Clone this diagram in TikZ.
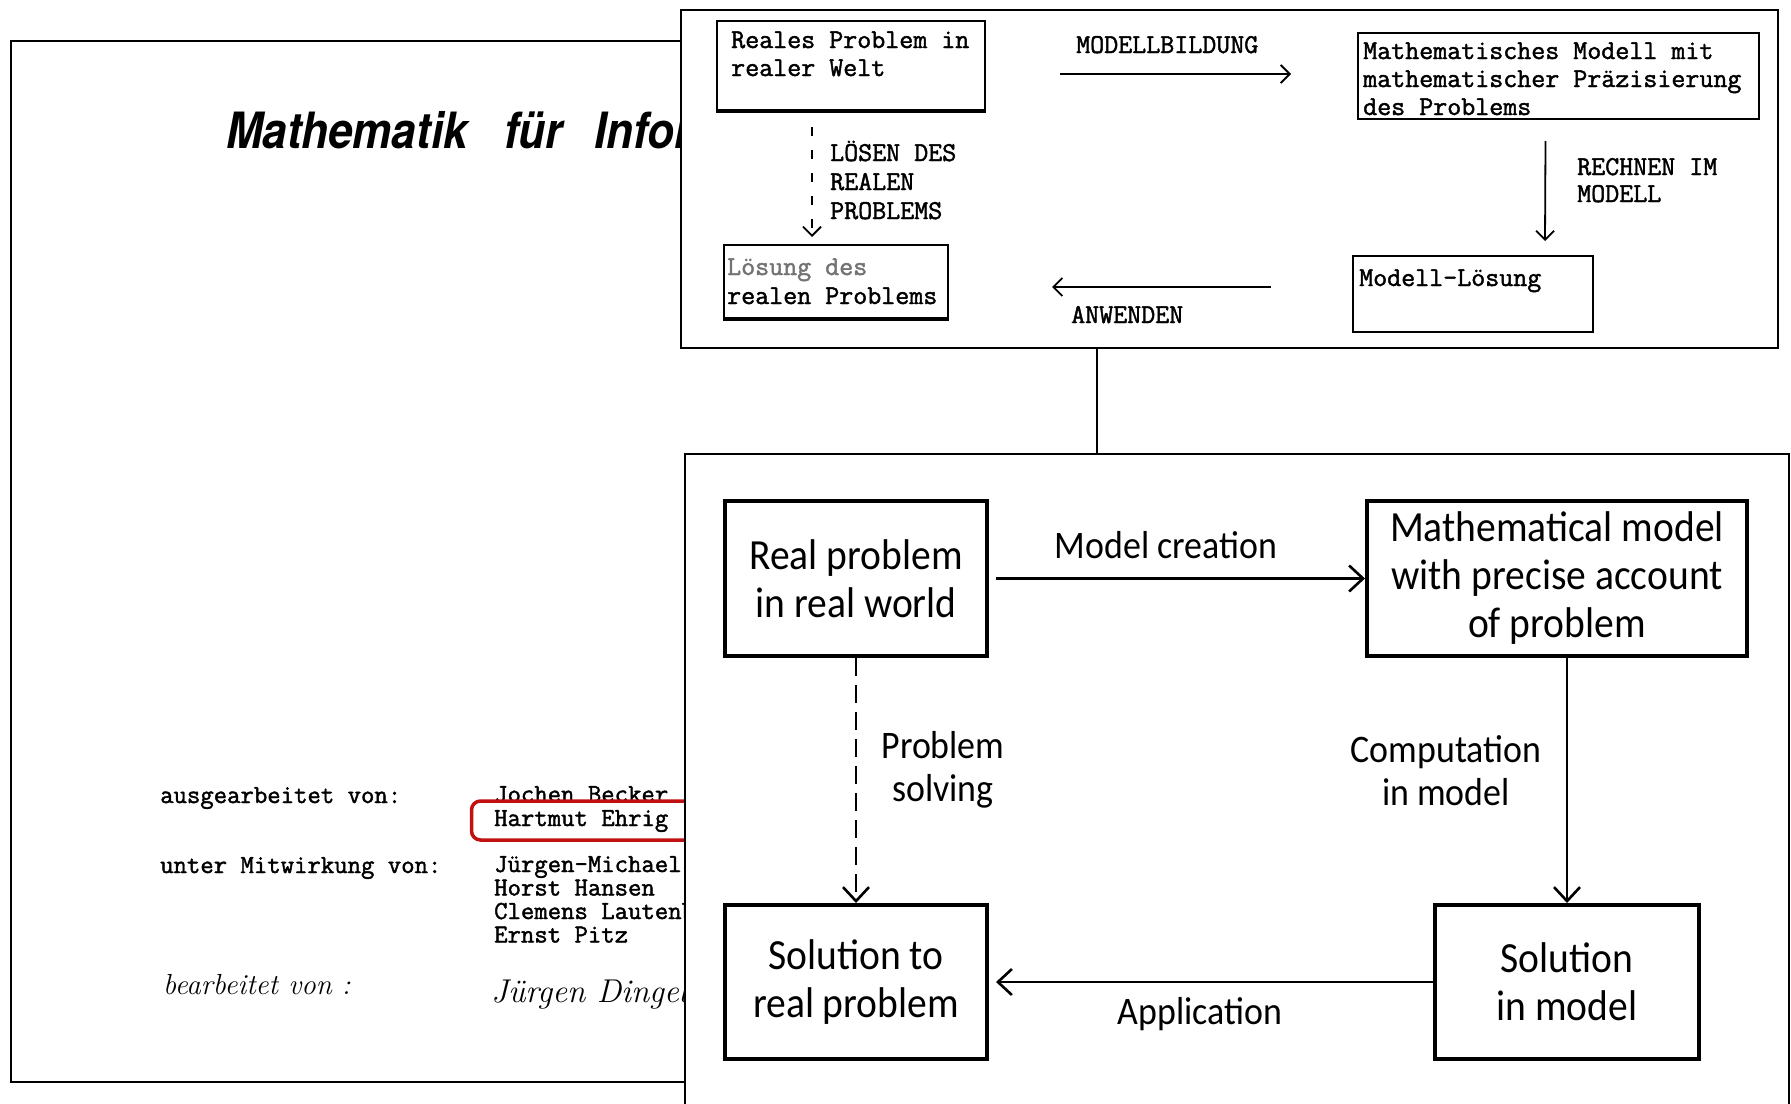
\documentclass[tikz,border=0pt]{standalone}
\usepackage{fontspec}
\usetikzlibrary{arrows.meta,calc}
\newfontfamily\monofont{Latin Modern Mono}[FakeBold=1.6]
\newfontfamily\calib{Carlito}[FakeStretch=0.92]
\newfontfamily\titlefont{TeX Gyre Heros}[FakeStretch=0.88]
\definecolor{markred}{RGB}{192,16,16}

\tikzset{
  sheet/.style={draw=black, line width=2.4pt},
  panel/.style={draw=black, line width=2.4pt, fill=white, anchor=north west, inner sep=0pt},
  titleword/.style={font=\titlefont\bfseries\itshape\fontsize{50}{50}\selectfont, anchor=base west, inner sep=0pt},
  typed/.style={font=\monofont\fontsize{27.2}{28}\selectfont, anchor=base west, inner sep=0pt},
  faded/.style={typed, text=black!55},
  listed/.style={font=\monofont\fontsize{26}{23}\selectfont, anchor=base west, inner sep=0pt},
  handwritten/.style={font=\itshape, anchor=west, inner sep=0pt},
  scanbox/.style={draw=black, line width=2pt, anchor=north west, inner sep=0pt},
  scanarrow/.style={line width=1.8pt, -{Straight Barb[length=9pt,width=18pt]}},
  flowbox/.style={draw=black, line width=4pt, fill=white, align=center, inner sep=0pt,
    font=\calib\fontsize{43}{48}\selectfont},
  flowlabel/.style={align=center, inner sep=0pt, font=\calib\fontsize{39}{43}\selectfont},
  flowarrow/.style={line width=2.6pt, -{Straight Barb[length=14pt,width=26pt]}},
}

\begin{document}
\begin{tikzpicture}[x=1pt, y=-1pt]
\useasboundingbox (0,0) rectangle (1791,1103);
\clip (0,0) rectangle (1791,1103);
\fill[white] (0,0) rectangle (1791,1103);

% ---- lecture notes title page (its right part lies under the two panels) ----
\draw[sheet] (690,41) -- (11,41) -- (11,1082) -- (690,1082);
\node[titleword] (w1) at (226,148) {Mathematik};
\node[titleword] (w2) at (504,148) {für};
\node[titleword] (w3) at (594,148) {Informatiker};

\node[listed] (aus) at (160,803) {ausgearbeitet von:};
\node[listed] (n1) at (494,802) {Jochen Becker};
\node[listed] (n2) at (494,826) {Hartmut Ehrig};
\node[listed] (mit) at (160,873) {unter Mitwirkung von:};
\node[listed] (n3) at (494,872) {Jürgen-Michael Kuhn};
\node[listed] (n4) at (494,895.5) {Horst Hansen};
\node[listed] (n5) at (494,919) {Clemens Lautenbach};
\node[listed] (n6) at (494,942.5) {Ernst Pitz};
\node[handwritten, font=\itshape\fontsize{29}{29}\selectfont] (bea) at (163,985) {bearbeitet von :};
\node[handwritten, font=\itshape\fontsize{33}{33}\selectfont] (sig) at (491,994) {Jürgen Dingel};

% highlight around one author
\draw[markred, line width=3.5pt, rounded corners=9pt] (471.5,801) rectangle (820,840);

% ---- original German diagram ----
\node[panel, minimum width=1097pt, minimum height=338pt] (top) at (680,9) {};

\node[scanbox, minimum width=268pt, minimum height=89pt] (rw) at (716,20) {};
\draw[line width=3pt] (rw.south west) -- (rw.south east);
\node[typed] (rw1) at (731,48) {Reales Problem in};
\node[typed] (rw2) at (731,76) {realer Welt};

\node[scanbox, minimum width=401pt, minimum height=86pt] (mm2) at (1357,32) {};
\node[typed] (mm21) at (1363,59) {Mathematisches Modell mit};
\node[typed] (mm22) at (1363,87) {mathematischer Präzisierung};
\node[typed] (mm23) at (1363,115) {des Problems};

\node[scanbox, minimum width=240pt, minimum height=76pt] (ml) at (1352,255) {};
\node[typed] (ml1) at (1359,286) {Modell-Lösung};

\node[scanbox, minimum width=224pt, minimum height=73pt] (lr) at (723,244) {};
\draw[line width=3pt] (lr.south west) -- (lr.south east);
\node[faded] (lr1) at (727,275) {Lösung des};
\node[typed] (lr2) at (727,304) {realen Problems};

\draw[scanarrow] ([shift={(74,8.5)}]rw.east) -- ([shift={(-66,-2)}]mm2.west);
\node[typed] (lab1) at (1076,53) {MODELLBILDUNG};

\draw[scanarrow] ([shift={(-13,21)}]mm2.south) -- ([shift={(72,-14)}]ml.north);
\node[typed] (lab2a) at (1577,175) {RECHNEN IM};
\node[typed] (lab2b) at (1577,202) {MODELL};

\draw[scanarrow] ([shift={(-81,-7)}]ml.west) -- ([shift={(103,5.5)}]lr.east);
\node[typed] (lab3) at (1071,323) {ANWENDEN};

\draw[scanarrow, dash pattern=on 9pt off 14pt] ([shift={(-39,16)}]rw.south) -- ([shift={(-24,-7)}]lr.north);
\node[typed] (lab4a) at (830,161) {LÖSEN DES};
\node[typed] (lab4b) at (830,190) {REALEN};
\node[typed] (lab4c) at (830,219) {PROBLEMS};

% ---- English diagram ----
\coordinate (cx) at (1097,0);
\node[panel, minimum width=1104pt, minimum height=700pt] (low) at (684,453) {};
\draw[line width=2.4pt] (top.south -| cx) -- (low.north -| cx);

\node[flowbox, minimum width=262pt, minimum height=155pt] (rp) at (856,578.5) {Real problem\\in real world};
\node[flowbox, minimum width=380pt, minimum height=155pt] (mm) at (1557,578.5) {Mathematical model\\with precise account\\of problem};
\node[flowbox, minimum width=262pt, minimum height=154pt] (sr) at (856,982) {Solution to\\real problem};
\node[flowbox, minimum width=264pt, minimum height=154pt] (sm) at (1567,982) {Solution\\in model};

\draw[flowarrow, shorten <=7pt] (rp.east) -- (mm.west);
\node[flowlabel] (l1) at (1166,545) {Model creation};

\draw[flowarrow] (sm.north |- mm.south) -- (sm.north);
\node[flowlabel] (l2) at (1446,771) {Computation\\in model};

\draw[flowarrow, shorten >=7pt] (sm.west) -- (sr.east);
\node[flowlabel] (l3) at (1200,1014) {Application};

\draw[flowarrow, dash pattern=on 18pt off 9pt] (rp.south) -- (sr.north);
\node[flowlabel] (l4) at (943,770) {Problem\\solving};
\end{tikzpicture}
\end{document}
